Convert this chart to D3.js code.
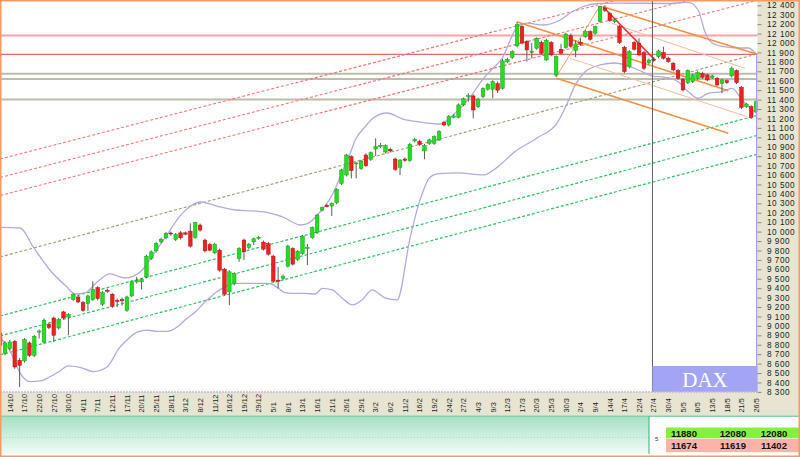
<!DOCTYPE html>
<html><head><meta charset="utf-8">
<script src="https://cdn.jsdelivr.net/npm/d3@7"></script>
<style>body{margin:0;background:#fff}svg{display:block}</style>
</head><body><svg id="c" width="800" height="457"></svg>
<script>
// ---------- DATA ----------
const dateLabels = ["14/10","17/10","22/10","27/10","30/10","4/11","7/11","12/11","17/11","20/11","25/11","28/11","3/12","8/12","11/12","16/12","19/12","29/12","5/1","8/1","13/1","16/1","21/1","26/1","29/1","3/2","6/2","11/2","16/2","19/2","24/2","27/2","4/3","9/3","12/3","17/3","20/3","25/3","30/3","2/4","9/4","14/4","17/4","22/4","27/4","30/4","5/5","8/5","13/5","18/5","21/5","26/5"];
const firstLabelIndex = 2, labelStep = 3;
const opens = [8925,8706,8759,8837,8635,8628,8819,8688,8935,8829,9017,9084,8978,9148,9095,9279,9307,9247,9237,9279,9407,9230,9378,9336,9270,9280,9166,9318,9467,9467,9520,9715,9796,9891,9934,9985,9916,9987,9987,10005,9938,10069,9910,9864,9775,9803,9602,9361,9449,9715,9910,9832,9892,9930,9888,9874,9740,9485,9503,9633,9821,9704,9768,9828,9938,9991,10228,10278,10271,10306,10511,10600,10795,10724,10671,10812,10766,10876,10901,10844,10873,10770,10682,10770,10752,10961,10958,10855,10936,10936,10972,11159,11131,11213,11213,11344,11432,11439,11326,11432,11510,11510,11570,11520,11800,11849,11970,12175,12016,11900,11945,12005,11821,12005,11660,11934,11950,12080,11920,12005,12069,12122,12104,12228,12370,12316,12228,12175,11955,11750,12005,11998,11899,11792,11828,11856,11899,11839,11785,11708,11616,11580,11591,11626,11679,11662,11633,11626,11573,11601,11651,11708,11531,11325,11325,11272];
const highs = [8945,8840,8850,8850,8660,8870,8835,8905,8962,9080,9035,9100,9085,9160,9135,9345,9330,9265,9330,9474,9420,9370,9395,9350,9290,9300,9320,9480,9520,9505,9755,9800,9890,9935,9995,10000,9985,10005,10000,10087,10104,10085,9925,9880,9880,9820,9615,9590,9570,9835,9925,9880,9935,9955,9905,9890,9755,9626,9545,9860,9835,9805,9965,9870,10055,10190,10265,10295,10310,10460,10665,10825,10810,10740,10760,10830,10850,10989,10940,10925,10890,10785,10770,10785,10940,10995,10975,10930,10985,11020,11075,11175,11235,11245,11360,11420,11467,11455,11420,11530,11575,11605,11590,11830,11845,11925,12219,12190,12030,12000,12060,12025,12045,12020,11870,11990,12110,12100,12030,12050,12135,12135,12185,12395,12400,12330,12260,12190,11970,11925,12020,12050,11915,11835,11850,11930,11960,11855,11800,11725,11630,11720,11675,11700,11695,11675,11665,11640,11620,11615,11750,11720,11545,11365,11340,11390];
const lows = [8770,8690,8740,8545,8352,8610,8670,8670,8865,8815,8965,8830,8960,9070,8900,9265,9240,9150,9160,9265,9270,9210,9350,9190,9200,9215,9150,9305,9450,9385,9505,9700,9780,9875,9920,9955,9900,9915,9960,9830,9925,10000,9780,9790,9760,9575,9320,9219,9430,9680,9697,9815,9857,9915,9800,9745,9460,9396,9490,9620,9640,9690,9755,9644,9925,9975,10215,10255,10165,10290,10495,10585,10565,10565,10655,10685,10750,10802,10885,10830,10840,10645,10600,10740,10740,10945,10910,10767,10920,10920,10960,11115,11115,11200,11200,11330,11379,11202,11310,11415,11495,11414,11470,11505,11785,11830,11955,11985,11803,11838,11930,11880,11810,11860,11640,11880,11940,11950,11850,11970,12055,12025,12090,12215,12330,12225,12210,11990,11680,11730,11920,11860,11715,11775,11800,11840,11825,11790,11700,11610,11485,11565,11575,11610,11620,11595,11620,11540,11467,11565,11635,11565,11300,11310,11195,11260];
const closes = [8794,8819,8829,8564,8582,8854,8688,8890,8945,9060,8982,8900,9067,9084,9120,9332,9254,9166,9318,9385,9290,9353,9368,9208,9260,9266,9307,9467,9484,9491,9739,9785,9874,9920,9980,9975,9969,9934,9973,9846,10094,10016,9796,9803,9867,9591,9336,9573,9556,9821,9786,9867,9924,9940,9814,9761,9474,9474,9527,9846,9655,9793,9952,9832,10044,10175,10253,10264,10299,10448,10653,10812,10646,10728,10749,10699,10837,10901,10915,10912,10855,10660,10759,10756,10926,10979,10926,10915,10972,11007,11060,11131,11220,11227,11344,11407,11443,11290,11404,11515,11560,11591,11500,11810,11825,11909,12195,12000,11927,11915,12050,11892,12030,11874,11856,11892,12095,11966,11990,11985,12122,12040,12175,12387,12345,12238,12246,12005,11697,11909,11934,11874,11732,11820,11820,11916,11839,11803,11715,11626,11502,11708,11662,11686,11637,11608,11651,11555,11608,11580,11732,11580,11318,11353,11212,11378];

const yTicks = d3.range(8300, 12401, 100);

// Bollinger bands (candle index, value)
const upperBandIdx = [0,4.1,6.8,10.2,13.7,15.4,17.4,19.9,22.5,25.6,28.7,31.8,34.2,36.9,39.4,41,43,45.1,48.2,51.7,55.3,58,59.9,61.5,62.9,65.6,68.3,70.3,71.8,72.8,74.8,76.5,79.3,82.6,86.1,90.2,92.9,96.4,99,101.1,103.1,104.6,106,108.1,111.3,114.8,116.9,119.3,122.6,126.1,136.4,141.1,143.1,144.6,146,148.7,151.3,153.4,154.8];
const upperBandVal = [10044,10038,9837,9593,9413,9338,9349,9466,9551,9508,9572,9784,9965,10166,10282,10314,10293,10261,10229,10219,10197,10155,10102,10070,10081,10208,10410,10654,10834,10972,11109,11205,11258,11194,11162,11141,11237,11428,11618,11735,11852,12032,12170,12212,12191,12244,12318,12382,12419,12424,12419,12430,12350,12106,12000,11958,11947,11947,11894];
const lowerBandIdx = [0,1.6,2.7,4.1,6.2,8.2,10.3,12.3,13.9,16.4,19.1,21.9,23.2,24,26,28.1,30.1,32.2,34.2,36.3,37.9,40,42,44.1,46.1,48.2,51.7,55,57,58.4,60.5,62.5,64.6,66,68.1,70.1,72.2,74.2,76.3,78.9,81.4,84.1,86.1,88.2,89.6,93.7,99,102.5,105.2,110.1,114.2,116.3,117.9,119.9,123,126.1,128.2,131.6,133.7,136.4,139,141.1,143.1,145.2,148,150.1,152.1,154.2,155];
const lowerBandVal = [8872,8776,8659,8500,8410,8416,8463,8522,8575,8559,8516,8564,8659,8734,8850,8935,8956,8941,8941,8988,9063,9147,9254,9349,9413,9450,9450,9450,9402,9354,9344,9344,9338,9397,9381,9296,9222,9275,9381,9296,9275,9944,10336,10580,10612,10622,10601,10707,10834,10993,11151,11363,11554,11692,11767,11788,11767,11696,11650,11636,11590,11484,11414,11467,11484,11520,11396,11290,11258];

// Drawn trend lines: [index1, value1, index2, value2]
const redChannel = [[0,10383,160,12517],[0,10574,160,12708],[0,10770,160,12904]];
const olivTrend = [[0,9731,155.2,11884]];
const greenChannel = [[0,9105,155.2,11232],[0,8893,155.2,11020],[0,8692,155.2,10819]];
const forkThick = [[105.9,12226,149.3,11494],[123.6,12385,155.1,11884],[114.1,11626,149.3,11043]];
const forkThin = [[116.9,11838,153.1,11219],[125.4,12209,152.7,11732]];
const forkHandle = [[114,11640,123,12395]];
const redTrend = [[123.6,12385,134.3,11818]];
const resistanceLevels = [11880, 12080, 12080];
const supportLevels = [11674, 11619, 11402];
const cursorIndex = 133.75;
const supportPanelMarker = "5";
const symbolName = "DAX";

// ---------- DRAW ----------
const svg = d3.select("#c");
const W = 800, H = 457;
const plotR = 757.5, plotB = 392;
const x = d3.scaleLinear().domain([0, 155]).range([0.12, 756.1]);
const y = d3.scaleLinear().domain([8300, 12400]).range([391.9, 5.3]);

svg.append("rect").attr("width", W).attr("height", H).attr("fill", "#fff");
svg.append("rect").attr("x", plotR).attr("y", 0).attr("width", W - plotR).attr("height", 415).attr("fill", "#e8e4d2");
svg.append("rect").attr("x", 0).attr("y", plotB).attr("width", W).attr("height", 415 - plotB).attr("fill", "#e8e4d2");

const defs = svg.append("defs");
defs.append("clipPath").attr("id", "plot").append("rect").attr("x", 0).attr("y", 0).attr("width", plotR).attr("height", plotB);
const grad = defs.append("linearGradient").attr("id", "gp").attr("x1", 0).attr("x2", 0).attr("y1", 0).attr("y2", 1);
grad.append("stop").attr("offset", "0%").attr("stop-color", "#a6e2c4");
grad.append("stop").attr("offset", "100%").attr("stop-color", "#f2fbf6");

const g = svg.append("g").attr("clip-path", "url(#plot)");

const hl = [
  {v: resistanceLevels[1], c: "#f4a4a4", w: 2},
  {v: resistanceLevels[0], c: "#e46a6a", w: 1.2},
  {v: supportLevels[0], c: "#bcbcaa", w: 2},
  {v: supportLevels[1], c: "#bcbcaa", w: 2},
  {v: supportLevels[2], c: "#bcbcaa", w: 2}
];
g.selectAll(".hl").data(hl).join("line")
  .attr("x1", 0).attr("x2", plotR).attr("y1", d => y(d.v)).attr("y2", d => y(d.v))
  .attr("stroke", d => d.c).attr("stroke-width", d => d.w);

function segs(arr, color, width, dash) {
  g.append("g").selectAll("line").data(arr).join("line")
    .attr("x1", d => x(d[0])).attr("y1", d => y(d[1]))
    .attr("x2", d => x(d[2])).attr("y2", d => y(d[3]))
    .attr("stroke", color).attr("stroke-width", width)
    .attr("stroke-dasharray", dash || null);
}
segs(redChannel, "#f07474", 1.1, "3,2");
segs(olivTrend, "#a89870", 1.1, "3,2");
segs(greenChannel, "#2fc062", 1.2, "3,2");

const bandLine = d3.line().x(d => x(d[0])).y(d => y(d[1])).curve(d3.curveMonotoneX);
g.append("path").attr("d", bandLine(d3.zip(upperBandIdx, upperBandVal)))
  .attr("fill", "none").attr("stroke", "#b6a8dc").attr("stroke-width", 1.3);
g.append("path").attr("d", bandLine(d3.zip(lowerBandIdx, lowerBandVal)))
  .attr("fill", "none").attr("stroke", "#b6a8dc").attr("stroke-width", 1.3);

segs(forkThin, "#f8bc98", 1);
segs(forkHandle, "#f4a060", 1);
segs(forkThick, "#f49040", 1.6);
segs(redTrend, "#e83434", 1.6);

g.append("line").attr("x1", x(cursorIndex)).attr("x2", x(cursorIndex)).attr("y1", 0).attr("y2", plotB)
  .attr("stroke", "#606060").attr("stroke-width", 1);

const idx = d3.range(opens.length);
const bw = 3.6;
const cg = g.append("g");
cg.selectAll(".w").data(idx).join("line")
  .attr("x1", i => x(i)).attr("x2", i => x(i))
  .attr("y1", i => y(highs[i])).attr("y2", i => y(lows[i]))
  .attr("stroke", "#5a5a5a").attr("stroke-width", 1);
cg.selectAll(".b").data(idx).join("rect")
  .attr("x", i => x(i) - bw / 2).attr("width", bw)
  .attr("y", i => y(Math.max(opens[i], closes[i])))
  .attr("height", i => Math.max(1, Math.abs(y(opens[i]) - y(closes[i]))))
  .attr("fill", i => closes[i] >= opens[i] ? "#22dd22" : "#ee2020")
  .attr("stroke", i => closes[i] >= opens[i] ? "#14a414" : "#b01414")
  .attr("stroke-width", 0.5);

svg.append("line").attr("x1", x(155) + 0.6).attr("x2", x(155) + 0.6)
  .attr("y1", y(upperBandVal[upperBandVal.length - 1])).attr("y2", plotB)
  .attr("stroke", "#a89ce2").attr("stroke-width", 1.3);

svg.append("rect").attr("x", x(cursorIndex)).attr("y", 366).attr("width", plotR - x(cursorIndex)).attr("height", plotB - 366)
  .attr("fill", "#a4a4f4");
svg.append("text").attr("x", (x(cursorIndex) + plotR) / 2).attr("y", 387).attr("text-anchor", "middle")
  .attr("font-family", "Liberation Serif, Times New Roman, serif").attr("font-size", 21).attr("fill", "#fff").text(symbolName);

svg.append("line").attr("x1", 0).attr("x2", plotR).attr("y1", plotB).attr("y2", plotB)
  .attr("stroke", "#c6b6e2").attr("stroke-width", 1.5).attr("stroke-dasharray", "2,1");

const ax = svg.append("g").attr("transform", `translate(${plotR},0)`)
  .call(d3.axisRight(y).tickValues(yTicks).tickSize(4).tickPadding(5.5)
    .tickFormat(d => d3.format(",")(d).replace(",", " ")));
ax.select(".domain").remove();
ax.selectAll("line").attr("stroke", "#888");
ax.selectAll("text").attr("font-family", "Liberation Sans, Arial, sans-serif").attr("font-size", 8.2)
  .attr("letter-spacing", 0.5).attr("fill", "#222");

svg.append("g").selectAll("text").data(dateLabels).join("text")
  .attr("transform", (d, j) => `translate(${x(firstLabelIndex + j * labelStep) + 2.8},412.5) rotate(-90)`)
  .attr("font-family", "Liberation Sans, Arial, sans-serif").attr("font-size", 7.4).attr("fill", "#222")
  .text(d => d);

const sepX = 649;
svg.append("line").attr("x1", 0).attr("x2", W).attr("y1", 416.2).attr("y2", 416.2).attr("stroke", "#5cc28c").attr("stroke-width", 1.2);
svg.append("rect").attr("x", 0).attr("y", 417).attr("width", sepX).attr("height", 37).attr("fill", "url(#gp)");
svg.append("line").attr("x1", 0).attr("x2", sepX).attr("y1", 437.5).attr("y2", 437.5).attr("stroke", "#b4d6c2").attr("stroke-dasharray", "1,2");
svg.append("line").attr("x1", sepX).attr("x2", sepX).attr("y1", 416).attr("y2", 454).attr("stroke", "#3cb070").attr("stroke-width", 1);
svg.append("text").attr("x", 655).attr("y", 441).attr("font-family", "Liberation Sans, Arial, sans-serif").attr("font-size", 6).attr("fill", "#333").text(supportPanelMarker);

svg.append("rect").attr("x", 666).attr("y", 427.5).attr("width", W - 666).attr("height", 10.8).attr("fill", "#84f040");
svg.append("rect").attr("x", 666).attr("y", 438.8).attr("width", W - 666).attr("height", 13.4).attr("fill", "#ffb2aa");
const colX = [684, 733, 774];
svg.append("g").selectAll("text").data(resistanceLevels).join("text")
  .attr("x", (d, i) => colX[i]).attr("y", 436.6).attr("text-anchor", "middle")
  .attr("font-family", "Liberation Sans Narrow, Liberation Sans, Arial, sans-serif").attr("font-weight", "bold").attr("font-size", 9.5).attr("fill", "#111")
  .text(d => d);
svg.append("g").selectAll("text").data(supportLevels).join("text")
  .attr("x", (d, i) => colX[i]).attr("y", 449).attr("text-anchor", "middle")
  .attr("font-family", "Liberation Sans Narrow, Liberation Sans, Arial, sans-serif").attr("font-weight", "bold").attr("font-size", 9.5).attr("fill", "#111")
  .text(d => d);

svg.append("rect").attr("x", 0.75).attr("y", 0.75).attr("width", W - 1.5).attr("height", H - 1.5)
  .attr("fill", "none").attr("stroke", "#f49a62").attr("stroke-width", 1.5);
</script></body></html>
